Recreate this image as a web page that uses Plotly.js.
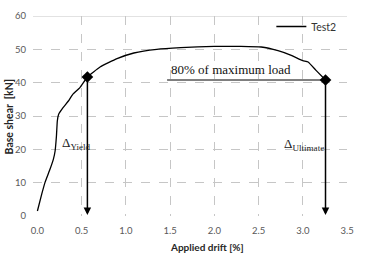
<!DOCTYPE html>
<html>
<head>
<meta charset="utf-8">
<script src="https://cdn.plot.ly/plotly-3.0.1.min.js"></script>
<style>html,body{margin:0;padding:0;background:#fff;}#chart{width:367px;height:271px;}</style>
</head>
<body>
<div id="chart"></div>
<script>
// Test2 curve: applied drift [%] vs base shear [kN]
const drift = [0.00, 0.05, 0.086, 0.143, 0.18, 0.20, 0.215, 0.225, 0.24, 0.29, 0.35, 0.40, 0.48, 0.565, 0.708, 0.9, 1.09, 1.35, 1.62, 2.0, 2.3, 2.53, 2.72, 2.87, 3.0, 3.06, 3.15, 3.257];
const shear = [1.5, 6.7, 10.1, 14.1, 17.0, 19.5, 24.0, 28.5, 30.5, 32.5, 34.5, 36.5, 38.5, 41.7, 44.7, 47.2, 48.9, 50.0, 50.5, 50.9, 50.9, 50.7, 49.6, 48.2, 46.6, 46.2, 43.7, 40.8];
// characteristic points
const yieldPoint = {x: 0.565, y: 41.7};
const ultimatePoint = {x: 3.257, y: 40.8};
const loadLineStartX = 1.466;
const xTickVals = [0, 0.5, 1, 1.5, 2, 2.5, 3, 3.5];
const xTickText = ["0.0", "0.5", "1.0", "1.5", "2.0", "2.5", "3.0", "3.5"];
const xGridVals = [0.5, 1, 1.5, 2, 2.5, 3];
const yTickVals = [0, 10, 20, 30, 40, 50, 60];

const tickFont = {family: "Lato, 'Open Sans', sans-serif", size: 9.5, color: "#595959"};
const serif = "'Liberation Serif', 'Times New Roman', serif";

const traces = [
  {x: drift, y: shear, type: "scatter", mode: "lines", name: "Test2",
   line: {color: "#000", width: 1.3, shape: "spline", smoothing: 0.4}, showlegend: true},
  {x: [loadLineStartX, ultimatePoint.x], y: [ultimatePoint.y, ultimatePoint.y], type: "scatter", mode: "lines",
   line: {color: "#000", width: 1}, showlegend: false, hoverinfo: "skip"},
  {x: [yieldPoint.x, ultimatePoint.x], y: [yieldPoint.y, ultimatePoint.y], type: "scatter", mode: "markers",
   marker: {symbol: "diamond", size: 9, color: "#000"}, showlegend: false},
  // invisible trace on the label axis so it is drawn
  {x: [0], y: [0], xaxis: "x2", type: "scatter", mode: "markers", marker: {opacity: 0}, showlegend: false, hoverinfo: "skip"}
];

const layout = {
  width: 367, height: 271,
  margin: {l: 33, r: 20, t: 13.5, b: 55.3},
  paper_bgcolor: "#fff", plot_bgcolor: "#fff",
  showlegend: true,
  legend: {x: 0.982, y: 1.02, xanchor: "right", yanchor: "top", bgcolor: "rgba(0,0,0,0)",
           font: {family: "Lato, sans-serif", size: 10.5, color: "#333"}},
  // main axis: gridlines only
  xaxis: {range: [-0.05, 3.5], tickvals: xGridVals, showticklabels: false, showgrid: true,
          gridcolor: "#c6c6c6", griddash: "dash", gridwidth: 1, zeroline: false, showline: false, ticks: "", fixedrange: true},
  // label axis
  xaxis2: {range: [-0.05, 3.5], overlaying: "x", anchor: "y", side: "bottom", tickvals: xTickVals, ticktext: xTickText,
           showgrid: false, zeroline: false, showline: false, ticks: "", tickfont: tickFont, ticklabelstandoff: 7},
  yaxis: {range: [0, 60], tickvals: yTickVals, showgrid: true, gridcolor: "#c6c6c6", griddash: "dash",
          zeroline: false, showline: false, ticks: "", tickfont: tickFont, ticklabelstandoff: 6},
  shapes: [
    {type: "line", xref: "paper", yref: "y", x0: 0, x1: 1, y0: 60, y1: 60, layer: "below", line: {color: "#c6c6c6", width: 1}}
  ],
  annotations: [
    {x: yieldPoint.x, y: 0.3, ax: yieldPoint.x, ay: yieldPoint.y, xref: "x", yref: "y", axref: "x", ayref: "y",
     showarrow: true, arrowhead: 2, arrowsize: 1, arrowwidth: 1.5, arrowcolor: "#000", text: ""},
    {x: ultimatePoint.x, y: 0.3, ax: ultimatePoint.x, ay: ultimatePoint.y, xref: "x", yref: "y", axref: "x", ayref: "y",
     showarrow: true, arrowhead: 2, arrowsize: 1, arrowwidth: 1.5, arrowcolor: "#000", text: ""},
    {x: 0.25, y: 21.8, xref: "x", yref: "y", showarrow: false, xanchor: "left",
     text: "Δ<sub>Yield</sub>", font: {family: serif, size: 13, color: "#222"}},
    {x: 2.77, y: 21.5, xref: "x", yref: "y", showarrow: false, xanchor: "left",
     text: "Δ<sub>Ultimate</sub>", font: {family: serif, size: 13, color: "#222"}},
    {x: 1.49, y: 41.0, xref: "x", yref: "y", showarrow: false, xanchor: "left", yanchor: "bottom",
     text: "80% of maximum load", font: {family: serif, size: 13, color: "#111"}},
    {x: 0.555, y: -0.153, xref: "paper", yref: "paper", showarrow: false, xanchor: "center", yanchor: "middle",
     text: "<b>Applied drift [%]</b>", font: {family: "Lato, sans-serif", size: 10, color: "#262626"}},
    {x: -0.075, y: 0.5, xref: "paper", yref: "paper", showarrow: false, textangle: -90, xanchor: "center", yanchor: "middle",
     text: "<b>Base shear\u00a0\u00a0[kN]</b>", font: {family: "Lato, sans-serif", size: 10.5, color: "#262626"}}
  ]
};

Plotly.newPlot("chart", traces, layout, {staticPlot: true, displayModeBar: false});
</script>
</body>
</html>
